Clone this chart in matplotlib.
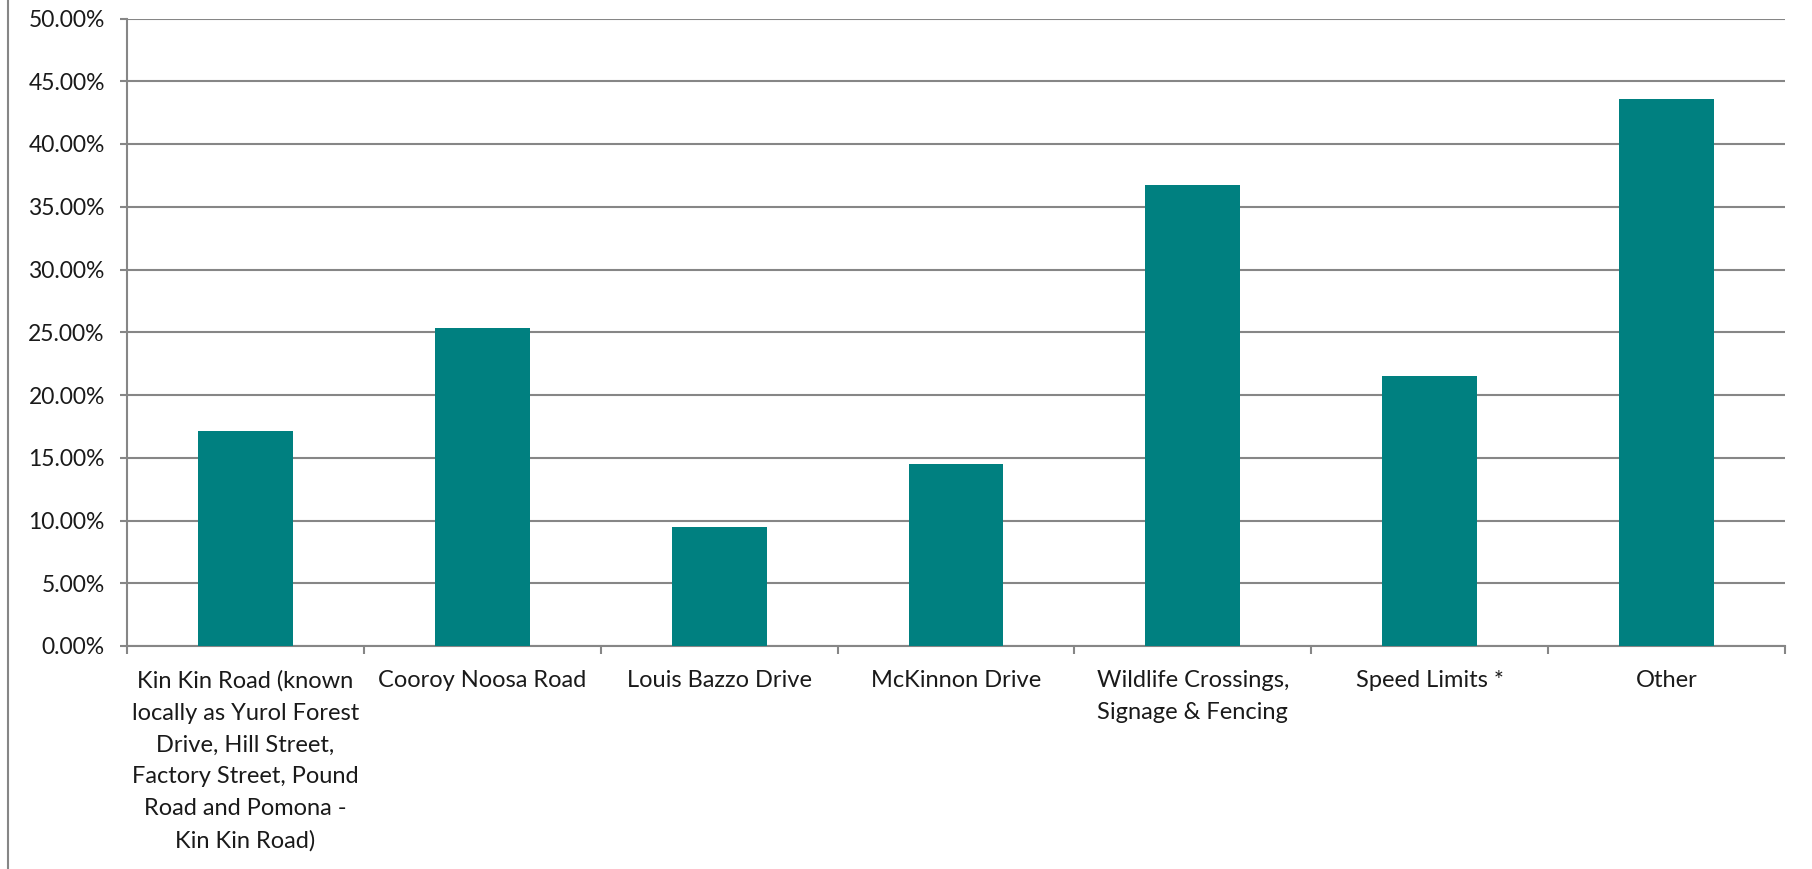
import matplotlib.pyplot as plt
from matplotlib.lines import Line2D
from matplotlib.ticker import FuncFormatter
import numpy as np

categories = ['Kin Kin Road (known\nlocally as Yurol Forest\nDrive, Hill Street,\nFactory Street, Pound\nRoad and Pomona -\nKin Kin Road)',
              'Cooroy Noosa Road',
              'Louis Bazzo Drive',
              'McKinnon Drive',
              'Wildlife Crossings,\nSignage & Fencing',
              'Speed Limits *',
              'Other']
values = [17.1, 25.3, 9.5, 14.5, 36.7, 21.5, 43.6]
y_ticks = [0, 5, 10, 15, 20, 25, 30, 35, 40, 45, 50]

BAR_COLOR = '#008080'
GRID_COLOR = '#868686'
TEXT_COLOR = '#1a1a1a'

plt.rcParams['font.family'] = ['Lato', 'DejaVu Sans']

fig = plt.figure(figsize=(18.12, 8.69), dpi=100)
ax = fig.add_axes([127 / 1812, 1 - 646 / 869, (1785 - 127) / 1812, (646 - 18.5) / 869])

x = np.arange(len(categories))
ax.bar(x, values, width=0.4, color=BAR_COLOR, zorder=3)

ax.set_xlim(-0.5, len(categories) - 0.5)
ax.set_ylim(0, 50)
ax.set_yticks(y_ticks)
ax.yaxis.set_major_formatter(FuncFormatter(lambda v, p: '{:.2f}%'.format(v)))
ax.grid(axis='y', color=GRID_COLOR, linewidth=1.5, zorder=0)

ax.set_xticks(x)
ax.set_xticklabels(categories, linespacing=1.64)
ax.set_xticks(np.arange(len(categories) + 1) - 0.5, minor=True)
ax.tick_params(axis='x', which='major', length=0, pad=17.5, labelsize=17, colors=TEXT_COLOR)
ax.tick_params(axis='x', which='minor', length=6, width=1.5, color=GRID_COLOR)
ax.tick_params(axis='y', length=5, width=1.5, color=GRID_COLOR, pad=11, labelsize=16.5, labelcolor=TEXT_COLOR)

for s in ['top', 'right']:
    ax.spines[s].set_visible(False)
for s in ['left', 'bottom']:
    ax.spines[s].set_color(GRID_COLOR)
    ax.spines[s].set_linewidth(1.5)

# outer chart border on the left
fig.add_artist(Line2D([8 / 1812, 8 / 1812], [0, 1], color=GRID_COLOR, linewidth=1.5))

fig.savefig('out.png', dpi=100, facecolor='white')
